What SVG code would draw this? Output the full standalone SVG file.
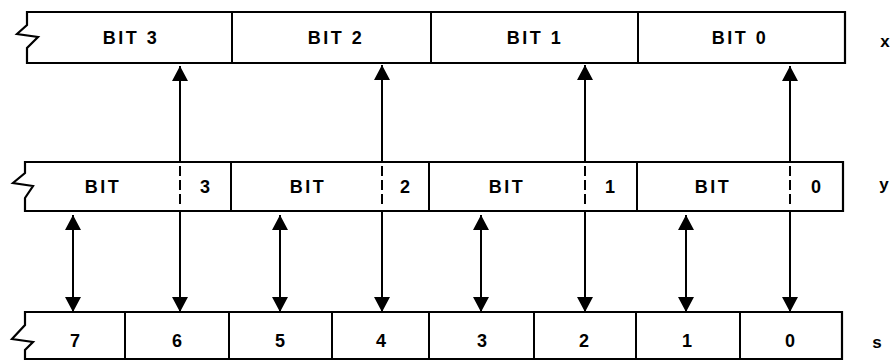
<svg xmlns="http://www.w3.org/2000/svg" width="892" height="361" viewBox="0 0 892 361">
<defs>
<marker id="ah" viewBox="0 0 15 16" refX="15" refY="8" markerWidth="15" markerHeight="16" markerUnits="userSpaceOnUse" orient="auto-start-reverse">
<path d="M0,0 L15,8 L0,16 Z" fill="#000"/>
</marker>
<style>
.box{fill:#fff;stroke:#000;stroke-width:2.2;stroke-linejoin:miter}
.div{stroke:#000;stroke-width:2}
.dash{stroke:#000;stroke-width:2;stroke-dasharray:10 4}
.t{font-family:"Liberation Sans",Arial,sans-serif;font-size:18px;font-weight:bold;letter-spacing:2.5px;text-anchor:middle;fill:#000}
.n{font-family:"Liberation Sans",Arial,sans-serif;font-size:18px;font-weight:bold;text-anchor:middle;fill:#000}
.lab{font-family:"Liberation Sans",Arial,sans-serif;font-size:17px;font-weight:bold;text-anchor:middle;fill:#000}
.c{stroke:#000;stroke-width:2;fill:none}
</style>
</defs>
<rect width="892" height="361" fill="#fff"/>

<g id="reg-x">
<path class="box" d="M27,12 H845 V63 H27 V48 L38,37 L17,34 L27,25 Z"/>
<g id="x3"><text class="t" x="131" y="44">BIT 3</text></g>
<g id="x2"><line class="div" x1="232" y1="12" x2="232" y2="63"/><text class="t" x="336" y="44">BIT 2</text></g>
<g id="x1"><line class="div" x1="431" y1="12" x2="431" y2="63"/><text class="t" x="535" y="44">BIT 1</text></g>
<g id="x0"><line class="div" x1="638" y1="12" x2="638" y2="63"/><text class="t" x="740" y="44">BIT 0</text></g>
<text class="lab" x="885" y="47">x</text>
</g>

<g id="reg-y">
<path class="box" d="M25,162 H843 V211 H25 V198 L33,186 L13,183 L25,173 Z"/>
<g id="y3"><text class="t" x="103" y="193">BIT</text><text class="n" x="205" y="193">3</text></g>
<g id="y2"><line class="div" x1="231" y1="162" x2="231" y2="211"/><text class="t" x="308" y="193">BIT</text><text class="n" x="405" y="193">2</text></g>
<g id="y1"><line class="div" x1="429" y1="162" x2="429" y2="211"/><text class="t" x="507" y="193">BIT</text><text class="n" x="610" y="193">1</text></g>
<g id="y0"><line class="div" x1="637" y1="162" x2="637" y2="211"/><text class="t" x="713" y="193">BIT</text><text class="n" x="816" y="193">0</text></g>
<text class="lab" x="884" y="190">y</text>
</g>

<g id="reg-s">
<path class="box" d="M25,312 H842 V359 H25 V350 L33,342 L12,339 L25,325 Z"/>
<g id="s7"><text class="n" x="75" y="347">7</text></g>
<g id="s6"><line class="div" x1="125" y1="312" x2="125" y2="359"/><text class="n" x="177" y="347">6</text></g>
<g id="s5"><line class="div" x1="229" y1="312" x2="229" y2="359"/><text class="n" x="280" y="347">5</text></g>
<g id="s4"><line class="div" x1="332" y1="312" x2="332" y2="359"/><text class="n" x="381" y="347">4</text></g>
<g id="s3"><line class="div" x1="429" y1="312" x2="429" y2="359"/><text class="n" x="482" y="347">3</text></g>
<g id="s2"><line class="div" x1="534" y1="312" x2="534" y2="359"/><text class="n" x="584" y="347">2</text></g>
<g id="s1"><line class="div" x1="636" y1="312" x2="636" y2="359"/><text class="n" x="687" y="347">1</text></g>
<g id="s0"><line class="div" x1="740" y1="312" x2="740" y2="359"/><text class="n" x="790" y="347">0</text></g>
<text class="lab" x="877" y="348">s</text>
</g>

<g id="connectors">
<line class="c" x1="180" y1="162" x2="180" y2="66" marker-end="url(#ah)"/>
<line class="dash" x1="180" y1="166" x2="180" y2="207"/>
<line class="c" x1="180" y1="211" x2="180" y2="312" marker-end="url(#ah)"/>

<line class="c" x1="382" y1="162" x2="382" y2="65" marker-end="url(#ah)"/>
<line class="dash" x1="382" y1="166" x2="382" y2="207"/>
<line class="c" x1="382" y1="211" x2="382" y2="312" marker-end="url(#ah)"/>

<line class="c" x1="585" y1="162" x2="585" y2="65" marker-end="url(#ah)"/>
<line class="dash" x1="585" y1="166" x2="585" y2="207"/>
<line class="c" x1="585" y1="211" x2="585" y2="312" marker-end="url(#ah)"/>

<line class="c" x1="790" y1="162" x2="790" y2="66" marker-end="url(#ah)"/>
<line class="dash" x1="790" y1="166" x2="790" y2="207"/>
<line class="c" x1="790" y1="211" x2="790" y2="312" marker-end="url(#ah)"/>

<line class="c" x1="73" y1="215" x2="73" y2="312" marker-start="url(#ah)" marker-end="url(#ah)"/>
<line class="c" x1="280" y1="215" x2="280" y2="312" marker-start="url(#ah)" marker-end="url(#ah)"/>
<line class="c" x1="481" y1="215" x2="481" y2="312" marker-start="url(#ah)" marker-end="url(#ah)"/>
<line class="c" x1="686" y1="215" x2="686" y2="312" marker-start="url(#ah)" marker-end="url(#ah)"/>
</g>
</svg>
